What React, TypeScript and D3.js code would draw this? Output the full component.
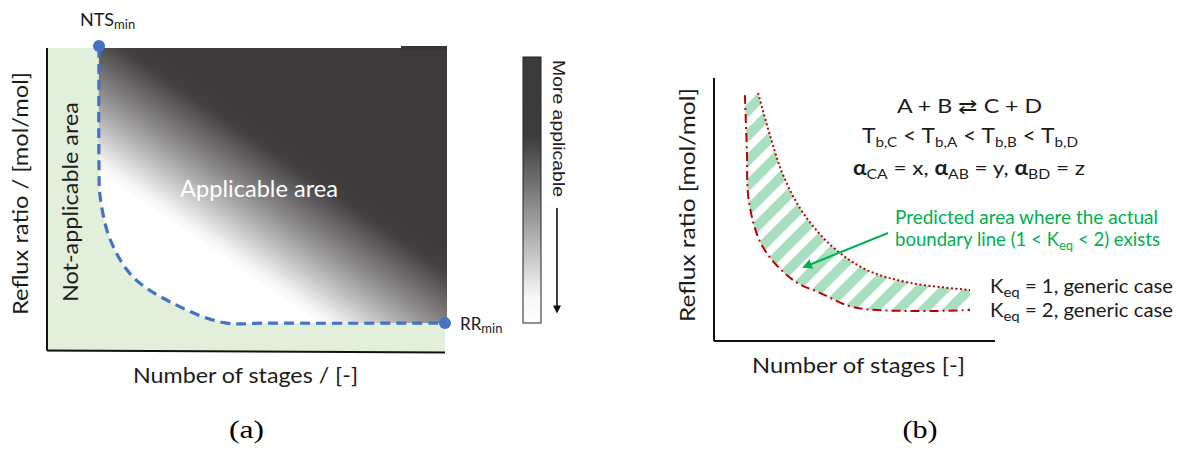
import React from 'react';
import * as d3 from 'd3';

// ---------- Panel (a): schematic applicability map (arbitrary units 0–10) ----------
const boundaryStages = [1.3, 1.3, 1.33, 1.58, 2.15, 3.15, 4.4, 5.5, 9.95];
const boundaryReflux = [10, 6.2, 5.1, 3.7, 2.47, 1.6, 0.97, 0.95, 0.95];
const ntsMinPoint = [1.3, 10];
const rrMinPoint = [9.95, 0.95];

// ---------- Panel (b): boundary lines for K_eq = 1 and K_eq = 2 ----------
const keq1Stages = [1.57, 1.99, 2.46, 3.17, 4.23, 5.44, 6.98, 9.11];
const keq1Reflux = [9.43, 7.83, 6.31, 4.87, 3.57, 2.7, 2.21, 1.94];
const keq2Stages = [1.1, 1.17, 1.25, 1.74, 2.81, 3.77, 4.95, 6.98, 9.11];
const keq2Reflux = [9.35, 7.26, 5.25, 3.57, 2.32, 1.83, 1.29, 1.14, 1.18];

// ---------- Texts ----------
const axisTitlesA = ['Number of stages / [-]', 'Reflux ratio / [mol/mol]'];
const axisTitlesB = ['Number of stages [-]', 'Reflux ratio [mol/mol]'];
const areaLabels = ['Applicable area', 'Not-applicable area'];
const colorbarLabel = 'More applicable';
const reactionText = 'A + B \u21C4 C + D';
const boilingOrder = ['C', 'A', 'B', 'D'];
const volatilityPairs = [['CA', 'x'], ['AB', 'y'], ['BD', 'z']];
const predictedLines = ['Predicted area where the actual', 'boundary line (1 < K', 'eq', ' < 2) exists'];
const keqLabels = [['1', 'generic case'], ['2', 'generic case']];
const panelLabels = ['(a)', '(b)'];

const FONT = 'Lato, "Noto Sans", sans-serif';
const INK = '#1c1c1c';

function zip(a: number[], b: number[]): [number, number][] {
  return a.map((v, i) => [v, b[i]] as [number, number]);
}

export default function App() {
  const xA = d3.scaleLinear().domain([0, 10]).range([47, 447]);
  const yA = d3.scaleLinear().domain([0, 10]).range([352, 48]);
  const xB = d3.scaleLinear().domain([0, 10]).range([714, 995]);
  const yB = d3.scaleLinear().domain([0, 10]).range([341, 78]);

  const lineA = d3
    .line<[number, number]>()
    .x((d) => xA(d[0]))
    .y((d) => yA(d[1]))
    .curve(d3.curveCatmullRom.alpha(0.5));
  const lineB = d3
    .line<[number, number]>()
    .x((d) => xB(d[0]))
    .y((d) => yB(d[1]))
    .curve(d3.curveCatmullRom.alpha(0.5));

  const boundary = zip(boundaryStages, boundaryReflux);
  const boundaryPath = lineA(boundary) || '';
  const applicablePath =
    boundaryPath +
    `L${xA(10)},${yA(boundaryReflux[boundaryReflux.length - 1])}L${xA(10)},${yA(10)}Z`;

  const keq1 = zip(keq1Stages, keq1Reflux);
  const keq2 = zip(keq2Stages, keq2Reflux);
  const keq1Path = lineB(keq1) || '';
  const keq2Path = lineB(keq2) || '';
  const keq2RevPath = (lineB(keq2.slice().reverse()) || '').replace(/^M/, 'L');
  const hatchPath = keq1Path + keq2RevPath + 'Z';

  const txt = (props: any, children: React.ReactNode, key?: string) => {
    const { x, y, w, size, anchor = 'start', fill = INK, family = FONT, rot = 0, weight } = props;
    return (
      <text
        key={key}
        transform={`translate(${x},${y}) rotate(${rot})`}
        textAnchor={anchor}
        fontSize={size}
        fontFamily={family}
        fontWeight={weight}
        fill={fill}
        textLength={w}
        lengthAdjust={w ? 'spacingAndGlyphs' : undefined}
      >
        {children}
      </text>
    );
  };

  return (
    <svg
      width={1183}
      height={450}
      style={{ position: 'absolute', left: 0, top: 0, display: 'block', background: '#fff' }}
    >
      <defs>
        <linearGradient id="appGrad" gradientUnits="userSpaceOnUse" x1={98} y1={173} x2={175} y2={61}>
          <stop offset="0" stopColor="#ffffff" />
          <stop offset="0.08" stopColor="#f4f4f4" />
          <stop offset="0.5" stopColor="#8e8c8c" />
          <stop offset="0.85" stopColor="#424040" />
          <stop offset="1" stopColor="#3b3939" />
        </linearGradient>
        <linearGradient id="barGrad" x1="0" y1="0" x2="0" y2="1">
          <stop offset="0" stopColor="#3b3939" />
          <stop offset="0.3" stopColor="#3d3b3b" />
          <stop offset="0.55" stopColor="#8a8888" />
          <stop offset="0.9" stopColor="#f6f6f6" />
          <stop offset="1" stopColor="#ffffff" />
        </linearGradient>
        <pattern
          id="hatch"
          patternUnits="userSpaceOnUse"
          width={17.7}
          height={17.7}
          patternTransform="rotate(45)"
        >
          <rect x={0} y={0} width={10} height={17.7} fill="#a8dfc0" />
        </pattern>
        <marker id="garrow" viewBox="0 0 10 10" refX={8} refY={5} markerWidth={5} markerHeight={5} orient="auto">
          <path d="M0,0L10,5L0,10Z" fill="#00b050" />
        </marker>
        <marker id="karrow" viewBox="0 0 10 10" refX={8} refY={5} markerWidth={6} markerHeight={5} orient="auto">
          <path d="M0,0L10,5L0,10Z" fill="#111" />
        </marker>
      </defs>

      {/* ================= Panel (a) ================= */}
      <rect x={xA(0)} y={yA(10)} width={xA(10) - xA(0) - 2} height={yA(0) - yA(10)} fill="#e2efda" />
      <path d={applicablePath} fill="url(#appGrad)" />
      <rect x={401} y={46} width={46} height={4} fill="#353333" />
      <line x1={xA(0)} y1={yA(10)} x2={xA(0)} y2={yA(0) - 1.5} stroke="#111" strokeWidth={2} />
      <line x1={xA(0)} y1={yA(0) - 1.5} x2={xA(10) - 2} y2={yA(0) + 0.5} stroke="#111" strokeWidth={2} />
      <path d={boundaryPath} fill="none" stroke="#4472c4" strokeWidth={3.2} strokeDasharray="10 6" />
      <circle cx={xA(ntsMinPoint[0])} cy={yA(ntsMinPoint[1]) - 2} r={6} fill="#4472c4" />
      <circle cx={xA(rrMinPoint[0])} cy={yA(rrMinPoint[1])} r={6} fill="#4472c4" />

      {txt({ x: 259, y: 197, w: 158, size: 23, anchor: 'middle', fill: '#ffffff' }, areaLabels[0])}
      {txt({ x: 78, y: 202, w: 200, size: 21, anchor: 'middle', rot: -90 }, areaLabels[1])}
      {txt({ x: 28, y: 193.5, w: 243, size: 22, anchor: 'middle', rot: -90 }, axisTitlesA[1])}
      {txt({ x: 245.5, y: 383, w: 225, size: 22, anchor: 'middle' }, axisTitlesA[0])}
      {txt(
        { x: 80, y: 26, size: 18 },
        <>
          <tspan>NTS</tspan>
          <tspan fontSize={13} dy={3}>
            min
          </tspan>
        </>
      )}
      {txt(
        { x: 460, y: 330, size: 17 },
        <>
          <tspan>RR</tspan>
          <tspan fontSize={13} dy={3}>
            min
          </tspan>
        </>
      )}

      {/* colour bar */}
      <rect x={523} y={57} width={18} height={266} fill="url(#barGrad)" stroke="#222" strokeWidth={1} />
      {txt(
        { x: 553, y: 60, w: 137, size: 17, rot: 90, family: '"Liberation Sans", Arial, sans-serif', fill: '#222' },
        colorbarLabel
      )}
      <line x1={557} y1={208} x2={557} y2={312} stroke="#111" strokeWidth={1.6} markerEnd="url(#karrow)" />

      {/* ================= Panel (b) ================= */}
      <path d={hatchPath} fill="url(#hatch)" />
      <path d={keq1Path} fill="none" stroke="#c00000" strokeWidth={2} strokeDasharray="2 2.5" />
      <path d={keq2Path} fill="none" stroke="#c00000" strokeWidth={2} strokeDasharray="9 4 2 4" />
      <line x1={xB(0)} y1={yB(10)} x2={xB(0)} y2={yB(0)} stroke="#111" strokeWidth={2} />
      <line x1={xB(0)} y1={yB(0)} x2={xB(10)} y2={yB(0)} stroke="#111" strokeWidth={2} />

      {txt({ x: 695, y: 205, w: 234, size: 22, anchor: 'middle', rot: -90 }, axisTitlesB[1])}
      {txt({ x: 858.5, y: 373, w: 213, size: 22, anchor: 'middle' }, axisTitlesB[0])}

      {txt({ x: 969.5, y: 112.5, w: 145, size: 20, anchor: 'middle' }, reactionText)}
      {txt(
        { x: 862, y: 143, w: 216, size: 21 },
        <>
          {boilingOrder.map((c, i) => (
            <React.Fragment key={c}>
              <tspan dy={i === 0 ? 0 : -4}>{i === 0 ? 'T' : ' < T'}</tspan>
              <tspan fontSize={14} dy={4}>
                {'b,' + c}
              </tspan>
            </React.Fragment>
          ))}
        </>
      )}
      {txt(
        { x: 853, y: 175, w: 232, size: 20 },
        <>
          {volatilityPairs.map(([sub, v], i) => (
            <React.Fragment key={sub}>
              <tspan fontWeight="bold">{'\u03B1'}</tspan>
              <tspan fontSize={14} dy={4}>
                {sub}
              </tspan>
              <tspan dy={-4}>{' = ' + v + (i < volatilityPairs.length - 1 ? ', ' : '')}</tspan>
            </React.Fragment>
          ))}
        </>
      )}

      {txt({ x: 1026.5, y: 224, w: 263, size: 18.5, anchor: 'middle', fill: '#00b050' }, predictedLines[0])}
      {txt(
        { x: 895, y: 246, w: 265, size: 18.5, fill: '#00b050' },
        <>
          <tspan>{predictedLines[1]}</tspan>
          <tspan fontSize={13} dy={4}>
            {predictedLines[2]}
          </tspan>
          <tspan dy={-4}>{predictedLines[3]}</tspan>
        </>
      )}
      <line x1={888} y1={233} x2={804} y2={267} stroke="#00b050" strokeWidth={2} markerEnd="url(#garrow)" />

      {keqLabels.map(([k, t], i) =>
        txt(
          { x: 990, y: 293 + i * 24, w: 183, size: 19 },
          <>
            <tspan>K</tspan>
            <tspan fontSize={14} dy={4}>
              eq
            </tspan>
            <tspan dy={-4}>{' = ' + k + ', ' + t}</tspan>
          </>,
          'keq' + k
        )
      )}

      {/* panel labels */}
      {txt(
        { x: 246.5, y: 438, w: 35, size: 25, anchor: 'middle', family: '"Liberation Serif", "Times New Roman", serif', fill: '#000' },
        panelLabels[0]
      )}
      {txt(
        { x: 920, y: 438, w: 35, size: 25, anchor: 'middle', family: '"Liberation Serif", "Times New Roman", serif', fill: '#000' },
        panelLabels[1]
      )}
    </svg>
  );
}
